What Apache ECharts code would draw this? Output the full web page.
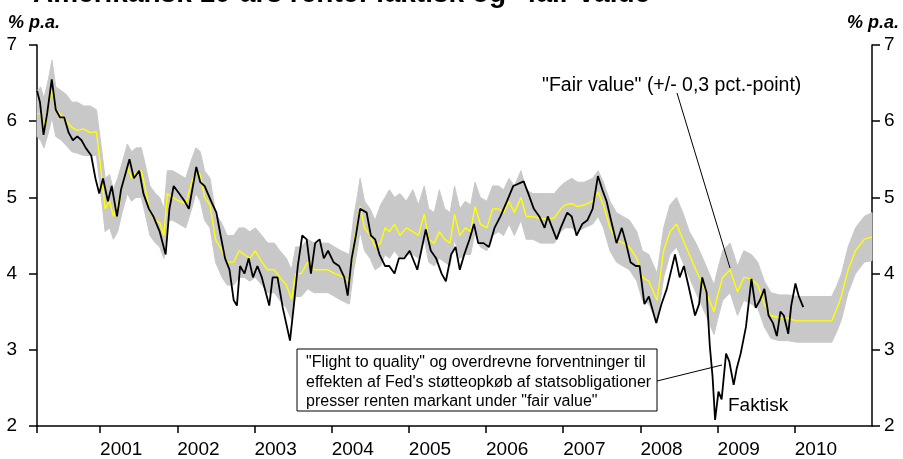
<!DOCTYPE html>
<html>
<head>
<meta charset="utf-8">
<script src="https://cdn.jsdelivr.net/npm/echarts@6/dist/echarts.min.js"></script>
<style>
  html, body { margin: 0; padding: 0; background: #fff; }
  #chart { width: 903px; height: 459px; }
</style>
</head>
<body>
<div id="chart"></div>
<script>
// Faktisk 10-årig rente (sort linje)
const actualDates = [
  '2000-03-08','2000-03-22','2000-04-08','2000-04-25','2000-05-17','2000-06-05','2000-06-25','2000-07-15','2000-08-05','2000-08-25',
  '2000-09-15','2000-10-05','2000-10-25','2000-11-20','2000-12-10','2000-12-28','2001-01-15','2001-02-07','2001-02-25','2001-03-22',
  '2001-04-10','2001-05-20','2001-06-10','2001-07-05','2001-07-25','2001-08-20','2001-09-10','2001-10-10','2001-11-07','2001-11-25',
  '2001-12-15','2002-01-10','2002-02-05','2002-02-25','2002-04-01','2002-04-20','2002-05-10','2002-06-10','2002-07-05','2002-07-25',
  '2002-08-15','2002-09-05','2002-09-25','2002-10-10','2002-10-25','2002-11-15','2002-12-05','2002-12-25','2003-01-15','2003-02-05',
  '2003-03-12','2003-03-28','2003-04-20','2003-05-15','2003-06-18','2003-07-05','2003-07-25','2003-08-15','2003-09-05','2003-09-25',
  '2003-10-15','2003-11-05','2003-11-25','2003-12-15','2004-01-10','2004-02-05','2004-03-01','2004-03-17','2004-04-05','2004-04-25',
  '2004-05-15','2004-06-15','2004-07-05','2004-07-25','2004-08-15','2004-09-10','2004-09-30','2004-10-25','2004-11-15','2004-12-10',
  '2005-01-05','2005-02-10','2005-03-22','2005-04-15','2005-05-10','2005-06-05','2005-06-25','2005-07-20','2005-08-10','2005-08-30',
  '2005-09-20','2005-10-15','2005-11-05','2005-11-25','2005-12-20','2006-01-15','2006-02-10','2006-03-10','2006-04-10','2006-05-10',
  '2006-06-28','2006-07-20','2006-08-15','2006-09-10','2006-10-05','2006-10-20','2006-11-10','2006-12-01','2006-12-20','2007-01-20',
  '2007-02-10','2007-03-05','2007-04-01','2007-04-25','2007-05-20','2007-06-14','2007-07-05','2007-07-25','2007-08-15','2007-09-10',
  '2007-10-05','2007-10-25','2007-11-15','2007-12-10','2007-12-28','2008-01-20','2008-02-10','2008-03-16','2008-04-10','2008-05-05',
  '2008-06-13','2008-07-05','2008-07-25','2008-08-15','2008-09-16','2008-10-05','2008-10-20','2008-11-10','2008-11-25','2008-12-08',
  '2008-12-20','2009-01-05','2009-01-20','2009-02-10','2009-02-25','2009-03-18','2009-04-01','2009-04-20','2009-05-15','2009-06-10',
  '2009-06-30','2009-07-20','2009-08-10','2009-08-30','2009-09-20','2009-10-08','2009-10-25','2009-11-10','2009-12-01','2009-12-15',
  '2010-01-04','2010-01-20','2010-02-10'
];
const actualValues = [
  6.40, 6.25, 5.82, 6.10, 6.55, 6.15, 6.05, 6.05, 5.85, 5.75,
  5.80, 5.75, 5.65, 5.55, 5.25, 5.05, 5.25, 4.95, 5.15, 4.75,
  5.10, 5.50, 5.25, 5.35, 5.05, 4.85, 4.75, 4.55, 4.25, 4.85,
  5.15, 5.05, 4.95, 4.85, 5.40, 5.20, 5.15, 4.95, 4.80, 4.50,
  4.20, 4.05, 3.65, 3.58, 4.10, 4.00, 4.20, 3.95, 4.10, 3.95,
  3.58, 3.95, 3.95, 3.55, 3.12, 3.55, 4.10, 4.50, 4.45, 4.00,
  4.40, 4.45, 4.20, 4.30, 4.15, 4.10, 3.95, 3.71, 4.20, 4.50,
  4.85, 4.80, 4.50, 4.45, 4.25, 4.10, 4.10, 4.00, 4.20, 4.20,
  4.30, 4.05, 4.58, 4.30, 4.20, 4.00, 3.90, 4.25, 4.35, 4.05,
  4.25, 4.45, 4.65, 4.40, 4.40, 4.35, 4.60, 4.75, 4.95, 5.15,
  5.21, 5.05, 4.85, 4.75, 4.60, 4.75, 4.60, 4.45, 4.60, 4.80,
  4.75, 4.50, 4.65, 4.70, 4.85, 5.28, 5.10, 4.95, 4.70, 4.40,
  4.60, 4.40, 4.15, 4.10, 4.10, 3.60, 3.70, 3.35, 3.60, 3.80,
  4.25, 3.95, 4.10, 3.85, 3.45, 3.60, 3.95, 3.75, 3.05, 2.65,
  2.08, 2.45, 2.35, 2.95, 2.85, 2.54, 2.75, 2.95, 3.30, 3.93,
  3.55, 3.65, 3.80, 3.45, 3.35, 3.18, 3.50, 3.45, 3.21, 3.58,
  3.87, 3.70, 3.56
];

// "Fair value" (gul linje) og båndet +/- 0,3 pct.-point (grå)
const fairDates = [
  '2000-03-08','2000-03-25','2000-04-10','2000-05-01','2000-05-18','2000-06-05','2000-07-01','2000-07-25','2000-08-20','2000-09-15',
  '2000-10-15','2000-11-15','2000-12-15','2001-01-05','2001-01-25','2001-02-15','2001-03-05','2001-03-25','2001-04-15','2001-05-10',
  '2001-05-30','2001-06-20','2001-07-15','2001-08-01','2001-08-25','2001-09-20','2001-10-10','2001-10-30','2001-11-15','2001-12-10',
  '2002-01-10','2002-02-10','2002-03-10','2002-03-30','2002-04-20','2002-05-10','2002-06-05','2002-07-01','2002-08-01','2002-08-25',
  '2002-09-25','2002-10-20','2002-11-15','2002-12-10','2003-01-05','2003-02-05','2003-03-05','2003-04-05','2003-05-01','2003-06-01',
  '2003-06-25','2003-07-15','2003-08-10','2003-09-10','2003-10-10','2003-11-15','2003-12-15','2004-01-15','2004-02-15','2004-03-25',
  '2004-04-15','2004-05-01','2004-05-15','2004-06-05','2004-07-01','2004-07-25','2004-08-20','2004-09-10','2004-10-01','2004-10-25',
  '2004-11-20','2004-12-20','2005-01-20','2005-02-15','2005-03-15','2005-04-05','2005-05-01','2005-05-25','2005-06-20','2005-07-15',
  '2005-08-05','2005-08-30','2005-09-25','2005-10-20','2005-11-10','2005-12-05','2006-01-05','2006-02-01','2006-03-01','2006-03-25',
  '2006-04-20','2006-05-15','2006-06-15','2006-07-10','2006-08-10','2006-09-15','2006-10-20','2006-11-20','2006-12-20','2007-01-10',
  '2007-02-10','2007-03-10','2007-04-10','2007-05-20','2007-06-15','2007-07-10','2007-08-10','2007-09-10','2007-10-10','2007-11-10',
  '2007-12-15','2008-01-10','2008-02-10','2008-03-20','2008-04-20','2008-05-20','2008-06-20','2008-07-20','2008-08-20','2008-09-20',
  '2008-10-15','2008-11-15','2008-12-15','2009-01-01','2009-01-25','2009-03-01','2009-04-05','2009-05-05','2009-06-10','2009-07-10',
  '2009-08-10','2009-09-10','2009-10-20','2009-12-01','2010-01-10','2010-04-01','2010-06-25','2010-07-20','2010-08-10','2010-09-10',
  '2010-10-15','2010-11-25','2011-01-01'
];
const fairValues = [
  6.10, 6.10, 5.93, 6.20, 6.42, 6.15, 6.08, 6.00, 5.92, 5.88,
  5.90, 5.85, 5.86, 5.37, 4.85, 4.95, 4.75, 4.90, 5.15, 5.40,
  5.25, 5.32, 5.35, 5.15, 4.80, 4.70, 4.67, 4.50, 5.05, 5.00,
  4.95, 4.92, 5.20, 5.35, 5.30, 5.00, 4.90, 4.45, 4.30, 4.15,
  4.15, 4.30, 4.25, 4.20, 4.30, 4.15, 4.05, 4.05, 3.95, 3.85,
  3.67, 4.00, 4.00, 4.15, 4.05, 4.05, 4.05, 4.00, 3.97, 3.90,
  4.40, 4.65, 4.88, 4.60, 4.50, 4.35, 4.40, 4.60, 4.55, 4.65,
  4.50, 4.60, 4.55, 4.50, 4.78, 4.45, 4.40, 4.55, 4.45, 4.40,
  4.78, 4.50, 4.60, 4.55, 4.88, 4.65, 4.60, 4.85, 4.85, 4.80,
  4.95, 4.80, 5.00, 4.75, 4.75, 4.72, 4.72, 4.73, 4.85, 4.90,
  4.92, 4.88, 4.90, 4.95, 5.07, 4.90, 4.60, 4.45, 4.40, 4.35,
  4.20, 3.95, 3.90, 3.65, 4.30, 4.55, 4.65, 4.45, 4.25, 4.05,
  3.90, 3.71, 3.50, 3.71, 3.95, 4.05, 3.76, 3.95, 3.93, 3.85,
  3.60, 3.45, 3.42, 3.41, 3.38, 3.38, 3.38, 3.55, 3.71, 4.05,
  4.30, 4.45, 4.48
];
const bandLow = [
  5.80, 5.75, 5.65, 5.85, 6.05, 5.80, 5.75, 5.68, 5.60, 5.58,
  5.55, 5.55, 5.55, 5.05, 4.55, 4.60, 4.45, 4.55, 4.80, 5.05,
  4.95, 5.00, 5.00, 4.80, 4.50, 4.40, 4.35, 4.20, 4.70, 4.70,
  4.65, 4.60, 4.85, 5.05, 4.95, 4.70, 4.60, 4.15, 3.95, 3.85,
  3.85, 3.95, 3.95, 3.90, 3.95, 3.85, 3.75, 3.75, 3.65, 3.55,
  3.40, 3.70, 3.70, 3.80, 3.75, 3.75, 3.75, 3.70, 3.65, 3.60,
  4.05, 4.30, 4.55, 4.30, 4.20, 4.05, 4.10, 4.25, 4.20, 4.30,
  4.20, 4.25, 4.25, 4.20, 4.45, 4.15, 4.10, 4.20, 4.15, 4.10,
  4.45, 4.20, 4.25, 4.25, 4.55, 4.35, 4.30, 4.50, 4.55, 4.50,
  4.65, 4.50, 4.70, 4.45, 4.45, 4.40, 4.40, 4.40, 4.55, 4.60,
  4.60, 4.55, 4.60, 4.65, 4.75, 4.60, 4.30, 4.15, 4.10, 4.05,
  3.90, 3.65, 3.60, 3.35, 3.95, 4.25, 4.35, 4.15, 3.95, 3.75,
  3.60, 3.40, 3.20, 3.40, 3.65, 3.75, 3.45, 3.65, 3.60, 3.55,
  3.30, 3.15, 3.12, 3.12, 3.10, 3.10, 3.10, 3.25, 3.40, 3.75,
  4.00, 4.15, 4.17
];
const bandHigh = [
  6.40, 6.45, 6.30, 6.55, 6.80, 6.45, 6.40, 6.35, 6.25, 6.25,
  6.20, 6.20, 6.15, 5.70, 5.25, 5.30, 5.10, 5.25, 5.45, 5.70,
  5.60, 5.65, 5.65, 5.45, 5.15, 5.05, 5.00, 4.85, 5.35, 5.35,
  5.30, 5.25, 5.50, 5.65, 5.60, 5.35, 5.25, 4.80, 4.65, 4.50,
  4.50, 4.60, 4.60, 4.55, 4.60, 4.50, 4.40, 4.40, 4.30, 4.20,
  4.05, 4.35, 4.35, 4.45, 4.40, 4.40, 4.40, 4.35, 4.30, 4.25,
  4.75, 5.00, 5.25, 4.95, 4.85, 4.70, 4.90, 5.00, 5.10, 5.00,
  5.05, 4.95, 5.10, 4.90, 5.15, 4.85, 4.80, 5.10, 4.85, 4.80,
  5.15, 4.85, 4.95, 4.90, 5.20, 5.00, 4.95, 5.15, 5.15, 5.10,
  5.25, 5.15, 5.35, 5.10, 5.05, 5.05, 5.05, 5.05, 5.15, 5.20,
  5.25, 5.20, 5.20, 5.25, 5.35, 5.20, 4.95, 4.80, 4.75, 4.70,
  4.55, 4.30, 4.25, 4.00, 4.60, 4.90, 5.00, 4.80, 4.55, 4.40,
  4.25, 4.05, 3.85, 4.05, 4.30, 4.40, 4.10, 4.30, 4.25, 4.15,
  3.90, 3.75, 3.72, 3.72, 3.70, 3.70, 3.70, 3.85, 4.00, 4.35,
  4.60, 4.75, 4.80
];

const yearTicks = [2001, 2002, 2003, 2004, 2005, 2006, 2007, 2008, 2009, 2010];
const xStart = 2000.183;
const xEnd = 2011;

// dato -> decimalår, så x-aksen kan være en almindelig værdiakse
function toYear(d) {
  const t = new Date(d + 'T00:00:00Z');
  const y = t.getUTCFullYear();
  const a = Date.UTC(y, 0, 1);
  const b = Date.UTC(y + 1, 0, 1);
  return y + (t.getTime() - a) / (b - a);
}

const actualX = actualDates.map(toYear);
const fairX = fairDates.map(toYear);
const actualData = actualX.map((x, i) => [x, actualValues[i]]);
const fairData = fairX.map((x, i) => [x, fairValues[i]]);

const FONT = 'Liberation Sans, Arial, sans-serif';

const chart = echarts.init(document.getElementById('chart'), null, { renderer: 'canvas' });

const yAxisBase = {
  type: 'value',
  min: 2,
  max: 7,
  interval: 1,
  splitLine: { show: false },
  axisLine: { show: true, lineStyle: { color: '#000', width: 1.5 } },
  axisTick: { show: true, inside: false, length: 8, lineStyle: { color: '#000', width: 1.5 } },
  axisLabel: { color: '#000', fontSize: 19, fontFamily: FONT }
};

const option = {
  animation: false,
  backgroundColor: '#fff',
  grid: { left: 37, right: 31, top: 45, bottom: 31 },
  xAxis: {
    type: 'value',
    min: xStart,
    max: xEnd,
    splitLine: { show: false },
    axisLine: { show: true, onZero: false, lineStyle: { color: '#000', width: 1.5 } },
    axisTick: {
      show: true,
      length: 7,
      customValues: [xStart].concat(yearTicks),
      lineStyle: { color: '#000', width: 1.5 }
    },
    axisLabel: {
      customValues: yearTicks,
      formatter: v => String(Math.round(v)),
      align: 'left',
      margin: 14,
      color: '#000',
      fontSize: 19,
      fontFamily: FONT
    }
  },
  yAxis: [
    Object.assign({}, yAxisBase, { position: 'left', axisLabel: Object.assign({}, yAxisBase.axisLabel, { margin: 20 }) }),
    Object.assign({}, yAxisBase, { position: 'right', axisLabel: Object.assign({}, yAxisBase.axisLabel, { margin: 12 }) })
  ],
  series: [
    {
      // gråt bånd omkring fair value
      type: 'custom',
      silent: true,
      z: 1,
      encode: { x: 0, y: 1 },
      data: [[fairX[0], bandLow[0]]],
      renderItem: function (params, api) {
        const pts = [];
        for (let i = 0; i < fairX.length; i++) pts.push(api.coord([fairX[i], bandHigh[i]]));
        for (let i = fairX.length - 1; i >= 0; i--) pts.push(api.coord([fairX[i], bandLow[i]]));
        return { type: 'polygon', shape: { points: pts }, style: { fill: '#c8c8c8', stroke: '#c8c8c8', lineWidth: 1 } };
      }
    },
    {
      name: 'Fair value',
      type: 'line',
      data: fairData,
      symbol: 'none',
      z: 3,
      lineStyle: { color: '#ffff00', width: 1.4 }
    },
    {
      name: 'Faktisk',
      type: 'line',
      data: actualData,
      symbol: 'none',
      z: 4,
      lineStyle: { color: '#000', width: 1.8 }
    }
  ],
  graphic: [
    {
      type: 'text', x: 33, y: -6, silent: true,
      style: { text: 'Amerikansk 10-års rente: faktisk og "fair value"', fontSize: 28, fontWeight: 'bold', fontFamily: FONT, fill: '#000', verticalAlign: 'middle' }
    },
    {
      type: 'text', x: 8, y: 23, silent: true,
      style: { text: '% p.a.', fontSize: 18, fontWeight: 'bold', fontStyle: 'italic', fontFamily: FONT, fill: '#000', verticalAlign: 'middle' }
    },
    {
      type: 'text', x: 899, y: 23, silent: true,
      style: { text: '% p.a.', fontSize: 18, fontWeight: 'bold', fontStyle: 'italic', fontFamily: FONT, fill: '#000', align: 'right', verticalAlign: 'middle' }
    },
    {
      type: 'text', x: 542, y: 86, silent: true,
      style: { text: '"Fair value" (+/- 0,3 pct.-point)', fontSize: 19.5, fontFamily: FONT, fill: '#000', verticalAlign: 'middle' }
    },
    {
      type: 'line', silent: true, z: 10,
      shape: { x1: 677, y1: 93, x2: 730, y2: 268 },
      style: { stroke: '#000', lineWidth: 1 }
    },
    {
      type: 'line', silent: true, z: 10,
      shape: { x1: 657, y1: 381, x2: 722, y2: 365 },
      style: { stroke: '#000', lineWidth: 1 }
    },
    {
      type: 'rect', silent: true, z: 10,
      shape: { x: 297, y: 349, width: 360, height: 62 },
      style: { fill: '#fff', stroke: '#000', lineWidth: 1 }
    },
    {
      type: 'text', x: 306, y: 353, silent: true, z: 11,
      style: {
        text: '"Flight to quality" og overdrevne forventninger til\neffekten af Fed\'s støtteopkøb af statsobligationer\npresser renten markant under "fair value"',
        fontSize: 16, lineHeight: 19.5, fontFamily: FONT, fill: '#000', verticalAlign: 'top'
      }
    },
    {
      type: 'text', x: 728, y: 406, silent: true, z: 11,
      style: { text: 'Faktisk', fontSize: 19, fontFamily: FONT, fill: '#000', verticalAlign: 'middle' }
    }
  ]
};

chart.setOption(option);
</script>
</body>
</html>
